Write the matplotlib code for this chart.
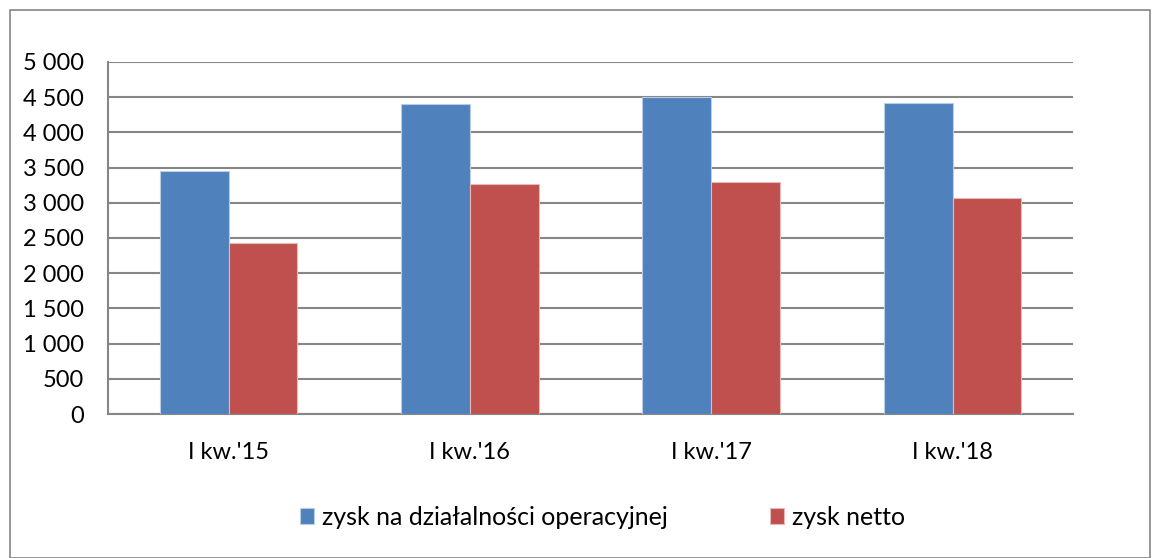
import numpy as np
import matplotlib.pyplot as plt
from matplotlib.patches import Rectangle

plt.rcParams['font.family'] = ['Lato', 'DejaVu Sans']

# data
categories = ["I kw.'15", "I kw.'16", "I kw.'17", "I kw.'18"]
operacyjny = [3445, 4400, 4500, 4415]
netto = [2435, 3260, 3290, 3065]
series_names = ["zysk na działalności operacyjnej", "zysk netto"]
yticks = [0, 500, 1000, 1500, 2000, 2500, 3000, 3500, 4000, 4500, 5000]

fig = plt.figure(figsize=(11.56, 5.58), dpi=100)
ax = fig.add_axes([0.0934, 0.258, 0.835, 0.631])

x = np.arange(len(categories))
w = 0.285
ax.bar(x - w/2, operacyjny, w, color='#4F81BD', edgecolor='#B9CDE5', linewidth=0.8,
       label=series_names[0], zorder=3)
ax.bar(x + w/2, netto, w, color='#C0504D', edgecolor='#E6B9B8', linewidth=0.8,
       label=series_names[1], zorder=3)

ax.set_xlim(-0.5, 3.5)
ax.set_ylim(0, 5000)
ax.set_yticks(yticks)
ax.set_yticklabels([f"{v:,}".replace(",", " ") for v in yticks])
ax.set_xticks(x)
ax.set_xticklabels(categories)
ax.tick_params(axis='both', length=0, labelsize=17, colors='black')
ax.tick_params(axis='x', pad=20)
ax.tick_params(axis='y', pad=17)
ax.yaxis.grid(True, color='#868686', linewidth=1.5, zorder=0)
for s in ['top', 'right']:
    ax.spines[s].set_visible(False)
for s in ['left', 'bottom']:
    ax.spines[s].set_color('#868686')
    ax.spines[s].set_linewidth(1.5)

fig.legend(loc='center', bbox_to_anchor=(0.521, 0.073), ncol=2, frameon=False,
           fontsize=18, handlelength=0.56, handleheight=0.56, handletextpad=0.32,
           columnspacing=4.1)

# outer chart frame
fig.patches.append(Rectangle((10/1156, 0.0), 1140/1156, 1 - 10/558,
                             transform=fig.transFigure, fill=False,
                             edgecolor='#868686', linewidth=1.2))

fig.savefig('out.png', dpi=100)
